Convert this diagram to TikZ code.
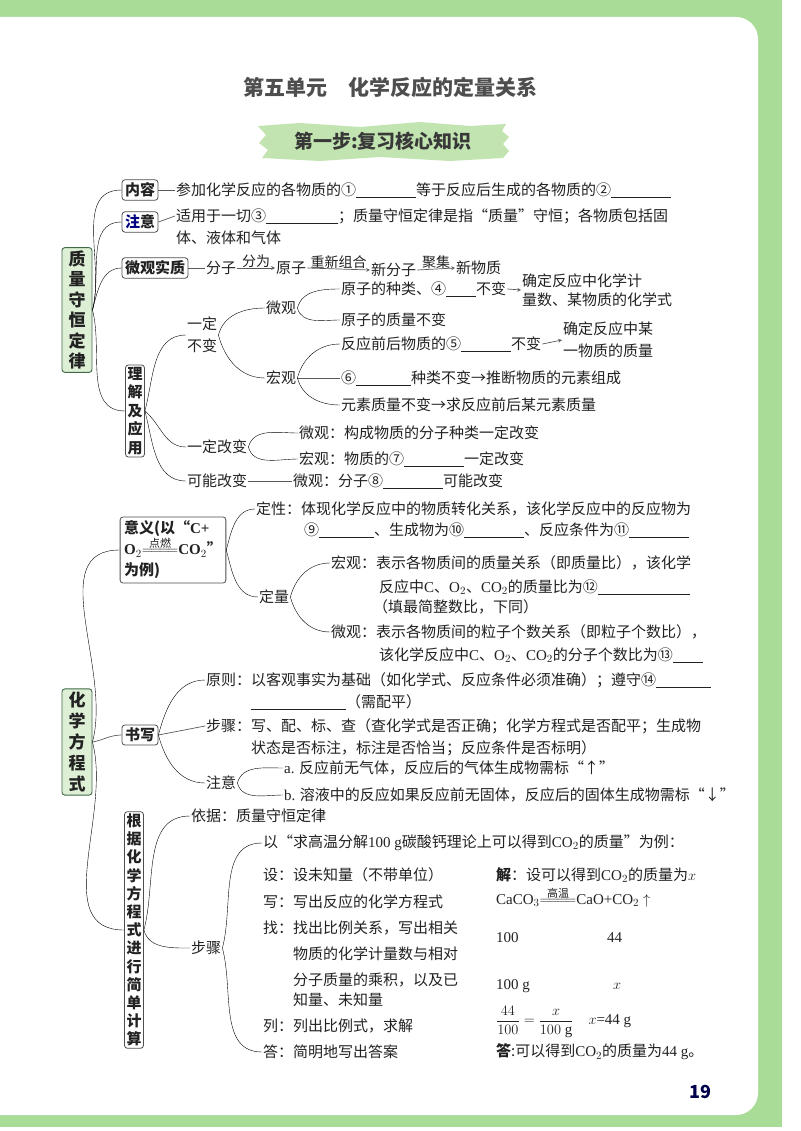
\documentclass[tikz,border=0pt]{standalone}
\usepackage{fontspec}
\setmainfont{Noto Sans CJK SC}
\newfontfamily\lat{Liberation Serif}
\definecolor{ink}{HTML}{222222}
\definecolor{frame}{HTML}{A9DC97}
\definecolor{rootfill}{HTML}{DDEFD5}
\definecolor{rootdraw}{HTML}{3F6B47}
\definecolor{banner}{HTML}{C2E4B0}
\newcommand\bl[1]{\rule[-2pt]{#1pt}{0.6pt}}
\newcommand\cond[1]{\ensuremath{\mathrel{\mathop{=\!=\!=\!=}\limits^{\mbox{\rmfamily\mdseries\fontsize{11}{11}\selectfont #1}}}}}
\begin{document}
\begin{tikzpicture}[x=1pt,y=-1pt,
  every node/.style={font=\fontsize{15}{22}\selectfont,text=ink},
  t/.style={anchor=west,inner sep=1pt},
  rootbox/.style={draw=rootdraw,fill=rootfill,rounded corners=3pt,line width=0.9pt,align=center,inner sep=3pt,font=\fontsize{17}{20.5}\selectfont\bfseries},
  subbox/.style={draw=ink!80,fill=white,rounded corners=3pt,line width=0.8pt,align=center,inner sep=3pt,font=\fontsize{15}{18}\selectfont\bfseries},
  ln/.style={draw=ink!75,line width=0.7pt},
  up/.style={ln,out=75,in=180},
  dn/.style={ln,out=-75,in=180},
  arr/.style={ln,-stealth},
  albl/.style={above=-1pt,inner sep=1pt,font=\fontsize{14}{16}\selectfont}]
\useasboundingbox (0,0) rectangle (800,1131);
% background
\fill[frame] (0,0) rectangle (782,1127);
\fill[white] (782,0) rectangle (800,1131);
\fill[white] (0,1127) rectangle (782,1131);
\fill[white,rounded corners=22pt] (-30,17) rectangle (758,1115);
% title
\node[font=\fontsize{21}{24}\selectfont\bfseries,text=ink!80] (title) at (390,87) {第五单元\quad 化学反应的定量关系};
\fill[banner] (258,126) -- (300,123) -- (360,127) -- (420,122) -- (470,126) -- (506,124) -- (502,131) -- (509,137) -- (503,144) -- (509,151) -- (503,158) -- (450,161) -- (380,157) -- (320,161) -- (262,158) -- (268,150) -- (259,143) -- (266,135) -- cycle;
\node[font=\fontsize{19}{22}\selectfont\bfseries,text=ink!90] (step1) at (383,141) {第一步:复习核心知识};

% ===== Section 1
\node[rootbox,minimum width=30pt,minimum height=124pt] (r1) at (77,310) {质\\量\\守\\恒\\定\\律};
\node[subbox] (nr) at (140,190) {内容};
\node[subbox] (zy) at (140,222) {\textcolor{blue!50!black}{注}意};
\node[subbox] (wg) at (155,268) {微观实质};
\node[subbox,font=\fontsize{15}{18.6}\selectfont\bfseries,inner sep=2pt] (lj) at (135,411) {理\\解\\及\\应\\用};
\draw (r1.east) to[up] (nr.west);
\draw (r1.east) to[up] (zy.west);
\draw (r1.east) to[up] (wg.west);
\draw (r1.east) to[dn] (lj.west);

\node[t] (tnr) at (175,190) {参加化学反应的各物质的①\bl{60}等于反应后生成的各物质的②\bl{60}};
\draw[ln] (nr.east) -- (tnr.west);
\node[t] (tzy) at (175,216) {适用于一切③\bl{72}；质量守恒定律是指“质量”守恒；各物质包括固};
\node[t] (tzy2) at (175,238) {体、液体和气体};
\draw[ln] (zy.east) -- (tzy.west);

\node[t] (fz) at (205,268) {分子};
\node[t] (yz) at (275,268) {原子};
\node[t] (xfz) at (370,270) {新分子};
\node[t] (xwz) at (455,268) {新物质};
\draw[ln] (wg.east) -- (fz.west);
\draw[arr] (fz.east) -- node[albl] (l1) {分为} (yz.west);
\draw[arr] (yz.east) -- node[albl] (l2) {重新组合} (xfz.west);
\draw[arr] (xfz.east) -- node[albl] (l3) {聚集} (xwz.west);

\node[t,align=center] (yd) at (186,335) {一定\\不变};
\node[t] (gb) at (186,447) {一定改变};
\node[t] (kn) at (186,481) {可能改变};
\draw (lj.east) to[up] (yd.west);
\draw (lj.east) to[ln,out=-40,in=180] (gb.west);
\draw (lj.east) to[dn] (kn.west);

\node[t] (wg2) at (265,308) {微观};
\node[t] (hg) at (265,378) {宏观};
\draw (yd.east) to[up] (wg2.west);
\draw (yd.east) to[dn] (hg.west);

\node[t] (a1) at (340,289) {原子的种类、④\bl{30}不变};
\node[t] (a2) at (340,320) {原子的质量不变};
\node[t,align=left,font=\fontsize{15}{19}\selectfont] (c1) at (521,290) {确定反应中化学计\\量数、某物质的化学式};
\draw (wg2.east) to[up] (a1.west);
\draw (wg2.east) to[dn] (a2.west);
\draw[arr] (a1.east) -- (c1.west);

\node[t] (b1) at (340,344) {反应前后物质的⑤\bl{50}不变};
\node[t,align=left] (c2) at (562,340) {确定反应中某\\一物质的质量};
\node[t] (b2) at (340,378) {⑥\bl{55}种类不变→推断物质的元素组成};
\node[t] (b3) at (340,405) {元素质量不变→求反应前后某元素质量};
\draw (hg.east) to[up] (b1.west);
\draw[ln] (hg.east) -- (b2.west);
\draw (hg.east) to[dn] (b3.west);
\draw[arr] (b1.east) -- (c2.west);

\node[t] (d1) at (298,433) {微观：构成物质的分子种类一定改变};
\node[t] (d2) at (298,459) {宏观：物质的⑦\bl{60}一定改变};
\draw (gb.east) to[up] (d1.west);
\draw (gb.east) to[dn] (d2.west);
\node[t] (e1) at (292,481) {微观：分子⑧\bl{60}可能改变};
\draw[ln] (kn.east) -- (e1.west);

% ===== Section 2
\node[rootbox,minimum width=30pt,minimum height=105pt,font=\fontsize{17}{21}\selectfont\bfseries] (r2) at (77,742) {化\\学\\方\\程\\式};
\node[subbox,align=left,inner sep=4pt,font=\fontsize{15}{21}\selectfont\bfseries] (yy) at (173,550) {意义(以“{\lat C+}\\{\lat O$_2$\cond{点燃}CO$_2$}”\\为例)};
\node[subbox] (sx) at (140,735) {书写};
\node[subbox,font=\fontsize{15}{18.2}\selectfont\bfseries,inner sep=2pt] (gj) at (134,930) {根\\据\\化\\学\\方\\程\\式\\进\\行\\简\\单\\计\\算};
\draw (r2.east) to[up] (yy.west);
\draw[ln] (r2.east) to[out=10,in=180] (sx.west);
\draw (r2.east) to[dn] (gj.west);

\node[t] (dx) at (255,509) {定性：体现化学反应中的物质转化关系，该化学反应中的反应物为};
\node[t] (dx2) at (303,530) {⑨\bl{55}、生成物为⑩\bl{60}、反应条件为⑪\bl{60}};
\node[t] (dl) at (258,597) {定量};
\draw (yy.east) to[up] (dx.west);
\draw (yy.east) to[dn] (dl.west);
\node[t] (h1) at (330,563) {宏观：表示各物质间的质量关系（即质量比），该化学};
\node[t] (h2) at (378,587) {反应中{\lat C}、{\lat O$_2$}、{\lat CO$_2$}的质量比为⑫\bl{92}};
\node[t] (h3) at (372,607) {（填最简整数比，下同）};
\node[t] (m1) at (330,632) {微观：表示各物质间的粒子个数关系（即粒子个数比），};
\node[t] (m2) at (378,655) {该化学反应中{\lat C}、{\lat O$_2$}、{\lat CO$_2$}的分子个数比为⑬\bl{30}};
\draw (dl.east) to[up] (h1.west);
\draw (dl.east) to[dn] (m1.west);

\node[t] (y1) at (205,680) {原则：以客观事实为基础（如化学式、反应条件必须准确）；遵守⑭\bl{55}};
\node[t] (y2) at (250,702) {\bl{95}（需配平）};
\node[t] (bz) at (205,726) {步骤：写、配、标、查（查化学式是否正确；化学方程式是否配平；生成物};
\node[t] (bz2) at (250,748) {状态是否标注，标注是否恰当；反应条件是否标明）};
\node[t] (zy3) at (205,783) {注意};
\draw (sx.east) to[up] (y1.west);
\draw[ln] (sx.east) -- (bz.west);
\draw (sx.east) to[dn] (zy3.west);
\node[t] (za) at (283,768) {{\lat a.} 反应前无气体，反应后的气体生成物需标“↑”};
\node[t] (zb) at (283,795) {{\lat b.} 溶液中的反应如果反应前无固体，反应后的固体生成物需标“↓”};
\draw (zy3.east) to[up] (za.west);
\draw (zy3.east) to[dn] (zb.west);

\node[t] (yj) at (190,816) {依据：质量守恒定律};
\node[t] (bz3) at (190,948) {步骤};
\draw (gj.east) to[up] (yj.west);
\draw (gj.east) to[dn] (bz3.west);
\node[t] (s0) at (262,843) {以“求高温分解{\lat 100 g}碳酸钙理论上可以得到{\lat CO$_2$}的质量”为例：};
\node[t] (s1) at (262,875) {设：设未知量（不带单位）};
\node[t] (s2) at (262,902) {写：写出反应的化学方程式};
\node[t] (s3) at (262,928) {找：找出比例关系，写出相关};
\node[t] (s3b) at (292,954) {物质的化学计量数与相对};
\node[t] (s3c) at (292,980) {分子质量的乘积，以及已};
\node[t] (s3d) at (292,1000) {知量、未知量};
\node[t] (s5) at (262,1026) {列：列出比例式，求解};
\node[t] (s6) at (262,1052) {答：简明地写出答案};
\draw (bz3.east) to[up] (s0.west);
\draw (bz3.east) to[dn] (s6.west);

\node[t] (q1) at (495,875) {\textbf{解}：设可以得到{\lat CO$_2$}的质量为$x$};
\node[t] (q2) at (495,897) {\lat CaCO$_3$\cond{高温}CaO+CO$_2\uparrow$};
\node[t] (q3) at (495,938) {\lat 100};
\node[t] (q3b) at (606,938) {\lat 44};
\node[t] (q4) at (495,986) {\lat 100 g};
\node[t] (q4b) at (612,986) {$x$};
\node[t] (q5) at (495,1022) {\lat $\displaystyle\frac{44}{100}=\frac{x}{100\mbox{ g}}$\quad $x$=44 g};
\node[t] (q6) at (495,1052) {\textbf{答}:可以得到{\lat CO$_2$}的质量为{\lat 44 g}。};

\node[font=\fontsize{18}{20}\selectfont\bfseries,text=blue!30!black] (pg) at (700,1092) {19};
\end{tikzpicture}
\end{document}
